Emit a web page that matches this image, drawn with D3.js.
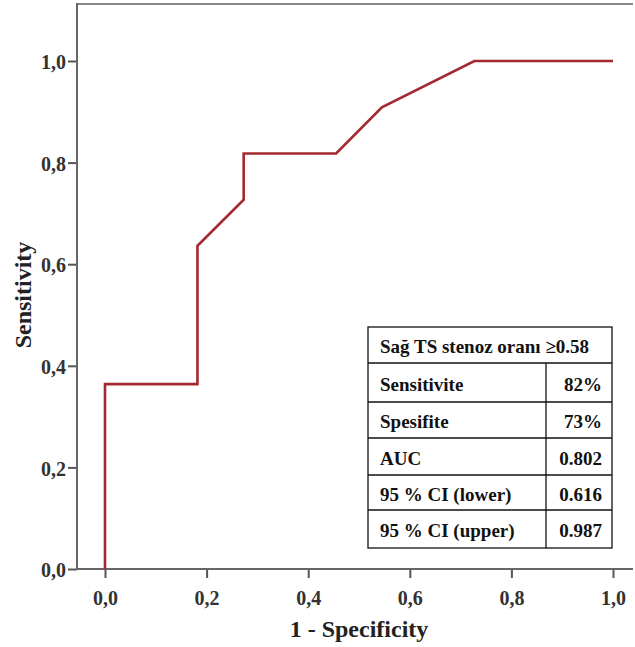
<!DOCTYPE html>
<html>
<head>
<meta charset="utf-8">
<script src="https://cdn.jsdelivr.net/npm/d3@7"></script>
<style>
  body { margin: 0; background: #fff; }
</style>
</head>
<body>
<div id="chart"></div>
<script>
// ROC curve points (1 - specificity, sensitivity)
const fpr = [0, 0, 0.182, 0.182, 0.273, 0.273, 0.455, 0.545, 0.727, 1.0];
const tpr = [0, 0.364, 0.364, 0.636, 0.727, 0.818, 0.818, 0.909, 1.0, 1.0];
const ticks = [0, 0.2, 0.4, 0.6, 0.8, 1.0];

const tableTitle = "Sağ TS stenoz oranı ≥0.58";
const rowLabels = ["Sensitivite", "Spesifite", "AUC", "95 % CI (lower)", "95 % CI (upper)"];
const rowValues = ["82%", "73%", "0.802", "0.616", "0.987"];

const FONT = "'Liberation Serif', 'Times New Roman', serif";
const width = 635, height = 647;
const x = d3.scaleLinear().domain([0, 1]).range([105, 613]);
const y = d3.scaleLinear().domain([0, 1]).range([569, 61]);
const fmt = d => d3.format(".1f")(d).replace(".", ",");

const svg = d3.select("#chart").append("svg")
    .attr("width", width)
    .attr("height", height);

// top frame line
svg.append("line").attr("x1", 77).attr("x2", 633).attr("y1", 4).attr("y2", 4)
    .attr("stroke", "#888").attr("stroke-width", 2);

const xAxis = svg.append("g").attr("transform", "translate(0,569)")
    .call(d3.axisBottom(x).tickValues(ticks).tickSize(9).tickFormat(fmt));
xAxis.select(".domain").remove();
xAxis.selectAll(".tick text").attr("y", 36).attr("dy", 0);

const yAxis = svg.append("g").attr("transform", "translate(77,0)")
    .call(d3.axisLeft(y).tickValues(ticks).tickSize(9).tickFormat(fmt));
yAxis.select(".domain").remove();
yAxis.selectAll(".tick text").attr("x", -11).attr("dy", "0.38em");

svg.append("line").attr("x1", 76).attr("x2", 633).attr("y1", 569).attr("y2", 569)
    .attr("stroke", "#666").attr("stroke-width", 2);
svg.append("line").attr("x1", 77).attr("x2", 77).attr("y1", 3).attr("y2", 570)
    .attr("stroke", "#666").attr("stroke-width", 2);

svg.selectAll(".tick line").attr("stroke", "#555").attr("stroke-width", 2);
svg.selectAll(".tick text")
    .attr("font-family", FONT).attr("font-weight", "bold").attr("font-size", 20).attr("fill", "#333");

// axis titles
svg.append("text").attr("x", 359).attr("y", 637).attr("text-anchor", "middle")
    .attr("font-family", FONT).attr("font-weight", "bold").attr("font-size", 24).attr("fill", "#222")
    .text("1 - Specificity");
svg.append("text").attr("transform", "translate(31,295) rotate(-90)").attr("text-anchor", "middle")
    .attr("font-family", FONT).attr("font-weight", "bold").attr("font-size", 24).attr("fill", "#222")
    .text("Sensitivity");

// ROC line
const pts = fpr.map((d, i) => [d, tpr[i]]);
svg.append("path").datum(pts)
    .attr("fill", "none")
    .attr("stroke", "#a3282f")
    .attr("stroke-width", 2.6)
    .attr("d", d3.line().x(d => x(d[0])).y(d => y(d[1])));

// info table
const tx0 = 368, tx1 = 612, tdiv = 546;
const rowY = [327, 363, 402, 438, 475, 510, 548];
const tbl = svg.append("g");
tbl.append("rect").attr("x", tx0).attr("y", rowY[0]).attr("width", tx1 - tx0)
    .attr("height", rowY[6] - rowY[0]).attr("fill", "#fff").attr("stroke", "#111").attr("stroke-width", 1.3);
rowY.slice(1, 6).forEach(yy => {
  tbl.append("line").attr("x1", tx0).attr("x2", tx1).attr("y1", yy).attr("y2", yy)
      .attr("stroke", "#111").attr("stroke-width", 1.3);
});
tbl.append("line").attr("x1", tdiv).attr("x2", tdiv).attr("y1", rowY[1]).attr("y2", rowY[6])
    .attr("stroke", "#111").attr("stroke-width", 1.3);

function cell(xx, yy, txt, anchor) {
  tbl.append("text").attr("x", xx).attr("y", yy).attr("text-anchor", anchor)
      .attr("font-family", FONT).attr("font-weight", "bold").attr("font-size", 19)
      .attr("fill", "#111").text(txt);
}
cell(tx0 + 12, (rowY[0] + rowY[1]) / 2 + 8, tableTitle, "start");
rowLabels.forEach((lab, i) => {
  const cy = (rowY[i + 1] + rowY[i + 2]) / 2 + 8;
  cell(tx0 + 12, cy, lab, "start");
  cell(tx1 - 10, cy, rowValues[i], "end");
});
</script>
</body>
</html>
